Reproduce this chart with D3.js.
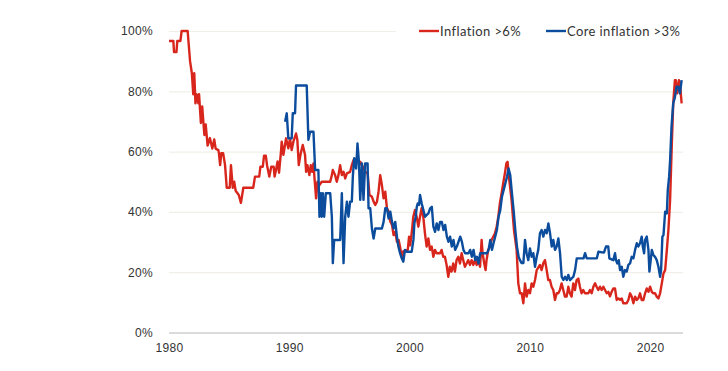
<!DOCTYPE html>
<html>
<head>
<meta charset="utf-8">
<script src="https://cdn.jsdelivr.net/npm/d3@7"></script>
<style>
  body { margin: 0; background: #fff; }
  svg { display: block; font-family: Lato, "Open Sans", sans-serif; }
  .tick text { fill: #333; font-size: 12px; letter-spacing: 0.3px; }
  .legend text { fill: #333; font-size: 13px; letter-spacing: 0.4px; }
</style>
</head>
<body>
<div id="chart"></div>
<script>
//data - share of countries (%)
var xTicks = [1980, 1990, 2000, 2010, 2020];
var yTicks = [0, 20, 40, 60, 80, 100];
var seriesNames = ['Inflation >6%', 'Core inflation >3%'];

var inflationYears = [
    1980.0, 1980.36, 1980.42, 1980.62, 1980.69, 1980.95, 1981.05, 1981.55, 1981.75, 1981.9,
    1982.02, 1982.1, 1982.2, 1982.3, 1982.44, 1982.5, 1982.65, 1982.76, 1982.94, 1983.05,
    1983.21, 1983.4, 1983.6, 1983.76, 1983.88, 1984.1, 1984.15, 1984.25, 1984.35, 1984.5,
    1984.66, 1984.8, 1985.05, 1985.15, 1985.3, 1985.42, 1985.54, 1985.8, 1985.98, 1986.18,
    1987.0, 1987.15, 1987.5, 1987.6, 1987.8, 1987.9, 1988.05, 1988.15, 1988.34, 1988.5,
    1988.7, 1988.78, 1988.9, 1989.03, 1989.15, 1989.31, 1989.37, 1989.51, 1989.73, 1989.92,
    1990.06, 1990.2, 1990.34, 1990.56, 1990.67, 1990.79, 1990.95, 1991.12, 1991.31, 1991.4,
    1991.51, 1991.67, 1991.79, 1991.9, 1992.01, 1992.12, 1992.23, 1992.34, 1992.51, 1992.7,
    1993.4, 1993.54, 1993.62, 1993.81, 1993.95, 1994.09, 1994.23, 1994.37, 1994.51, 1994.65,
    1994.79, 1995.06, 1995.2, 1995.34, 1995.48, 1995.67, 1995.81, 1995.9, 1996.04, 1996.31,
    1996.51, 1996.67, 1996.87, 1997.01, 1997.15, 1997.29, 1997.42, 1997.56, 1997.7, 1997.84,
    1997.98, 1998.12, 1998.26, 1998.4, 1998.54, 1998.67, 1998.81, 1998.95, 1999.09, 1999.23,
    1999.35, 1999.49, 1999.85, 1999.96, 2000.05, 2000.18, 2000.31, 2000.45, 2000.59, 2000.73,
    2000.87, 2001.0, 2001.14, 2001.28, 2001.42, 2001.56, 2001.7, 2001.84, 2001.98, 2002.11,
    2002.25, 2002.53, 2002.66, 2002.8, 2002.94, 2003.08, 2003.22, 2003.35, 2003.49, 2003.63,
    2003.77, 2003.91, 2004.05, 2004.19, 2004.33, 2004.46, 2004.6, 2004.74, 2004.88, 2005.02,
    2005.16, 2005.3, 2005.44, 2005.58, 2005.72, 2005.86, 2005.99, 2006.07, 2006.21, 2006.32,
    2006.4, 2006.54, 2006.68, 2006.82, 2007.1, 2007.24, 2007.38, 2007.51, 2007.65, 2007.79,
    2007.93, 2008.05, 2008.15, 2008.29, 2008.48, 2008.68, 2008.9, 2009.04, 2009.18, 2009.32,
    2009.46, 2009.6, 2009.73, 2009.87, 2010.01, 2010.15, 2010.29, 2010.43, 2010.57, 2010.84,
    2010.98, 2011.12, 2011.26, 2011.4, 2011.53, 2011.67, 2011.81, 2011.95, 2012.09, 2012.23,
    2012.37, 2012.5, 2012.64, 2012.78, 2012.92, 2013.06, 2013.2, 2013.33, 2013.47, 2013.61,
    2013.75, 2013.89, 2014.03, 2014.16, 2014.3, 2014.44, 2014.58, 2014.86, 2015.0, 2015.14,
    2015.28, 2015.42, 2015.55, 2015.69, 2015.83, 2015.97, 2016.11, 2016.25, 2016.39, 2016.53,
    2016.66, 2016.8, 2016.94, 2017.08, 2017.22, 2017.36, 2017.5, 2017.64, 2017.77, 2018.05,
    2018.19, 2018.33, 2018.47, 2018.61, 2018.75, 2018.89, 2019.02, 2019.16, 2019.3, 2019.44,
    2019.58, 2019.72, 2019.86, 2020.0, 2020.14, 2020.27, 2020.41, 2020.55, 2020.69, 2020.83,
    2020.97, 2021.11, 2021.25, 2021.39, 2021.52, 2021.66, 2021.8, 2021.92, 2022.06, 2022.14,
    2022.25, 2022.4, 2022.48, 2022.55, 2022.62
];
var inflationShare = [
    96.7, 96.7, 93, 93, 96.7, 96.7, 100, 100, 90, 86,
    79, 86, 76, 79, 76, 79, 69.5, 75, 65.5, 69,
    62, 64.5, 61, 64, 61, 60.5, 59.5, 55.5, 59.5, 59.5,
    55.5, 48, 48, 55.5, 48, 50, 47, 45.6, 43, 48,
    48, 51.7, 51.7, 55, 55, 58.6, 58.6, 55.5, 51.7, 55,
    55, 51.7, 54, 56.7, 53, 60, 63.3, 58.9, 64.4, 61.1,
    64.4, 60.5, 63.3, 66, 63.9, 55.5, 59.4, 62.2, 58.9, 53.3,
    55.5, 52.2, 55.5, 53.3, 56.1, 50, 44.5, 50, 48.9, 50,
    50, 52.2, 53.9, 52.2, 50, 52.2, 55.5, 52.2, 53.3, 51.1,
    52.8, 53.3, 55.5, 57.2, 56.1, 57.8, 55.5, 56.6, 55.5, 53.3,
    52.8, 45.6, 45, 43.4, 42.3, 43.4, 46.7, 52.2, 48.9, 44.5,
    46.7, 41.2, 40.1, 36.8, 35.7, 32.3, 33.4, 30.1, 30.7, 28,
    25.1, 27, 27.4, 31.8, 28.9, 33, 38.4, 40.6, 38.4, 35.1,
    38.4, 41.2, 38.4, 32.9, 28.5, 31.2, 27.4, 28.5, 25.1, 27.4,
    26.3, 26.3, 27.4, 25.1, 25.1, 22.4, 18.5, 21.8, 20.2, 22.9,
    20.2, 24, 25.1, 22.9, 26.3, 24, 21.8, 22.9, 24, 22.4,
    24, 22.4, 24, 22.4, 24, 21.8, 30.7, 26.3, 22.9, 20.7,
    24, 27.4, 28.5, 30.7, 32.9, 35.1, 38.4, 42.9, 46.2, 49.6,
    52.9, 56.1, 56.6, 50.6, 44, 34, 27.4, 16.3, 13, 13,
    9.7, 16.3, 11.9, 14.1, 13, 16.3, 15.2, 17.4, 20.7, 22.4,
    20.7, 23, 24, 20.7, 17.4, 17.4, 15.2, 14.1, 10.8, 13,
    13, 14.1, 16.3, 14.1, 11.9, 11.9, 15.2, 13, 11.9, 16.3,
    14.1, 17.4, 17.9, 15.2, 13, 14.1, 13, 13, 14.1, 13,
    15.2, 16.3, 15.2, 14.1, 15.2, 14.1, 15.2, 14.1, 13, 13.5,
    12, 13.5, 14.6, 14.6, 10.8, 11.3, 10.8, 11.3, 9.7, 9.7,
    10.8, 13, 11.9, 9.7, 11.9, 10.8, 11.3, 13, 10.8, 10.8,
    13, 14.6, 13.5, 15.2, 13.5, 13, 13, 11.9, 11.3, 13,
    16.3, 19.6, 20.7, 27.4, 34, 44, 62, 76, 83.7, 83.7,
    79.3, 83.7, 82.6, 79.3, 76
];

var coreYears = [
    1989.65, 1989.79, 1989.92, 1990.2, 1990.29, 1990.48, 1990.56, 1991.45, 1991.59, 1991.73,
    1992.01, 1992.15, 1992.42, 1992.51, 1992.62, 1992.7, 1992.79, 1992.9, 1993.04, 1993.4,
    1993.54, 1993.62, 1993.73, 1994.23, 1994.37, 1994.51, 1994.65, 1994.79, 1994.92, 1995.06,
    1995.2, 1995.29, 1995.4, 1995.56, 1995.67, 1995.79, 1995.9, 1996.04, 1996.17, 1996.31,
    1996.51, 1996.59, 1996.73, 1996.87, 1997.01, 1997.15, 1997.7, 1997.84, 1997.98, 1998.12,
    1998.26, 1998.4, 1998.54, 1998.67, 1998.81, 1998.95, 1999.07, 1999.21, 1999.35, 1999.48,
    1999.62, 1999.76, 2000.18, 2000.32, 2000.4, 2000.51, 2000.6, 2000.68, 2000.79, 2000.87,
    2001.01, 2001.15, 2001.29, 2001.43, 2001.57, 2001.71, 2001.85, 2001.98, 2002.12, 2002.26,
    2002.4, 2002.54, 2002.68, 2002.82, 2002.96, 2003.1, 2003.23, 2003.37, 2003.51, 2003.65,
    2003.79, 2003.93, 2004.07, 2004.21, 2004.35, 2004.48, 2004.62, 2004.9, 2005.04, 2005.18,
    2005.32, 2005.46, 2005.6, 2005.73, 2005.87, 2006.43, 2006.57, 2006.71, 2006.85, 2006.98,
    2007.12, 2007.26, 2007.4, 2007.54, 2007.68, 2007.82, 2007.96, 2008.1, 2008.23, 2008.37,
    2008.51, 2008.65, 2008.79, 2008.93, 2009.07, 2009.18, 2009.32, 2009.46, 2009.6, 2009.73,
    2009.87, 2010.01, 2010.15, 2010.29, 2010.43, 2010.57, 2010.7, 2010.84, 2010.98, 2011.12,
    2011.26, 2011.4, 2011.54, 2011.68, 2011.82, 2011.95, 2012.09, 2012.23, 2012.37, 2012.51,
    2012.65, 2012.79, 2012.93, 2013.07, 2013.2, 2013.34, 2013.62, 2013.76, 2013.9, 2014.46,
    2014.59, 2014.73, 2015.57, 2015.7, 2016.16, 2016.33, 2016.52, 2016.61, 2016.94, 2017.08,
    2017.16, 2017.27, 2017.39, 2017.5, 2017.64, 2017.77, 2017.91, 2018.05, 2018.19, 2018.33,
    2018.47, 2018.61, 2018.75, 2018.89, 2019.02, 2019.16, 2019.3, 2019.39, 2019.5, 2019.58,
    2019.72, 2019.86, 2019.94, 2020.05, 2020.14, 2020.27, 2020.41, 2020.55, 2020.69, 2020.83,
    2020.91, 2021.02, 2021.11, 2021.25, 2021.39, 2021.47, 2021.58, 2021.66, 2021.78, 2021.92,
    2022.06, 2022.2, 2022.34, 2022.48, 2022.62
];
var coreShare = [
    69.9, 72.7, 64.4, 64.4, 72.7, 72.7, 81.9, 81.9, 63.9, 66.6,
    66.6, 53.9, 53.9, 38.4, 46.2, 38.4, 46.2, 38.4, 46.2, 46.2,
    38.4, 23, 30.7, 30.7, 46.2, 23, 38.4, 43.4, 38.4, 43.4,
    43.4, 52.2, 57.8, 54.4, 62.7, 56.6, 44, 56.1, 44, 56.1,
    56.1, 41.2, 41.2, 34.5, 31.2, 34.5, 34.5, 36.7, 41.2, 41.2,
    37.8, 40.1, 36.7, 34.5, 36.7, 31.8, 28.5, 26.3, 24.6, 23.5,
    27.4, 26.8, 26.8, 30.7, 36.2, 38.4, 41.7, 42.8, 42.3, 45.6,
    42.8, 40.6, 38.4, 39, 39.5, 41.2, 41.7, 35.1, 33.4, 36.2,
    34, 36.7, 36.7, 34, 35.7, 31.8, 30.1, 31.8, 28.5, 30.7,
    27.4, 28.5, 30.1, 31.8, 30.1, 27.4, 26.3, 26.3, 27.4, 25.1,
    27.4, 24, 25.1, 22.9, 26.3, 26.3, 27.4, 30.7, 27.4, 29.6,
    31.8, 34, 38.4, 40.6, 45, 47.2, 49.4, 51.6, 54.4, 52.2,
    46.2, 40.6, 34, 28.5, 25.1, 24, 23, 23, 30.7, 26.3,
    24, 27.9, 25.1, 26.3, 21.8, 25.1, 27.4, 32.9, 34, 31.8,
    34, 32.9, 36.2, 32.9, 28.5, 30.7, 27.4, 28.5, 31.2, 26.3,
    18.5, 17.4, 18.5, 17.4, 19.1, 17.4, 18.5, 20.7, 24.6, 24.6,
    26.3, 24.6, 24.6, 26.8, 26.5, 28.5, 28.5, 24.6, 24, 26.3,
    24, 22.9, 24, 20.7, 21.8, 18.5, 20.7, 20.2, 22.4, 22.9,
    25.1, 24.6, 27.4, 29.6, 28.5, 29.6, 31.8, 28.5, 26.3, 30.7,
    31.8, 27.4, 20.2, 24, 27.4, 25.7, 25.1, 24, 21.8, 18.5,
    20.7, 31.8, 32.3, 40.1, 39.5, 47.3, 51.7, 57, 68.3, 76,
    78, 81.5, 81.5, 79.3, 83.7
];
//end data

var inflationSeries = d3.zip(inflationYears, inflationShare);
var coreSeries = d3.zip(coreYears, coreShare);

var width = 728;
var height = 371;
var colors = ['#d8261d', '#0b4c9d'];

var svg = d3.select('#chart').append('svg')
    .attr('width', width)
    .attr('height', height);

//scales
var x = d3.scaleLinear()
    .domain([1980, 2022.65])
    .range([169, 682]);

var y = d3.scaleLinear()
    .domain([0, 100])
    .range([332.5, 31]);

//y axis with gridlines
var yAxis = svg.append('g')
    .attr('class', 'y axis')
    .attr('transform', 'translate(' + x.range()[0] + ',0)')
    .call(d3.axisLeft(y)
        .tickValues(yTicks)
        .tickFormat(function(d){ return d + '%'; })
        .tickSize(-(x.range()[1] - x.range()[0] + 1))
        .tickPadding(16));

yAxis.select('.domain').remove();
yAxis.selectAll('.tick line')
    .attr('stroke', function(d){ return d === 0 ? '#cfcfcf' : '#f1f0e8'; })
    .attr('stroke-width', function(d){ return d === 0 ? 1.6 : 1.2; });
yAxis.selectAll('.tick text')
    .attr('text-anchor', 'end');

//x axis labels only
var xAxis = svg.append('g')
    .attr('class', 'x axis')
    .attr('transform', 'translate(0,' + y(0) + ')')
    .call(d3.axisBottom(x)
        .tickValues(xTicks)
        .tickFormat(d3.format('d'))
        .tickSize(0)
        .tickPadding(11));

xAxis.select('.domain').remove();

//lines
var lineFunc = d3.line()
    .x(function(d){ return x(d[0]); })
    .y(function(d){ return y(d[1]); });

var gLines = svg.append('g').attr('class', 'lines');

gLines.selectAll('path')
    .data([inflationSeries, coreSeries])
    .enter().append('path')
    .attr('d', lineFunc)
    .attr('fill', 'none')
    .attr('stroke', function(d, i){ return colors[i]; })
    .attr('stroke-width', 2.4)
    .attr('stroke-linejoin', 'round');

//legend (white box hides top gridline behind it)
var legend = svg.append('g').attr('class', 'legend');

legend.append('rect')
    .attr('x', 396)
    .attr('y', 22)
    .attr('width', 300)
    .attr('height', 18)
    .attr('fill', '#fff');

var legendX = [419, 546];

var legendItems = legend.selectAll('g.item')
    .data(seriesNames)
    .enter().append('g')
    .attr('class', 'item')
    .attr('transform', function(d, i){ return 'translate(' + legendX[i] + ',' + y(100) + ')'; });

legendItems.append('line')
    .attr('x1', 0)
    .attr('x2', 20)
    .attr('stroke', function(d, i){ return colors[i]; })
    .attr('stroke-width', 2.4);

legendItems.append('text')
    .attr('x', 21)
    .attr('dy', '0.35em')
    .text(function(d){ return d; });
</script>
</body>
</html>
